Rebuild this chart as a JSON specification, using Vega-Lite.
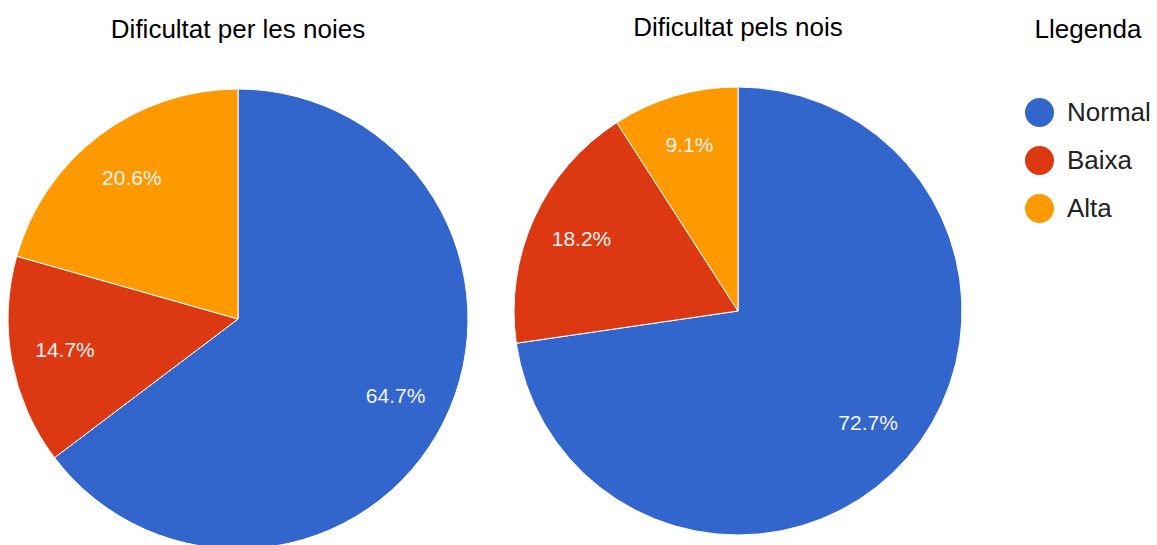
{
  "$schema": "https://vega.github.io/schema/vega-lite/v6.json",
  "padding": {"top": 15, "left": 0, "right": 0, "bottom": 0},
  "background": "white",
  "spacing": 34,
  "data": {
    "values": [
      {"grup": "noies", "categoria": "Normal", "ordre": 1, "pct": 0.647},
      {"grup": "noies", "categoria": "Baixa", "ordre": 2, "pct": 0.147},
      {"grup": "noies", "categoria": "Alta", "ordre": 3, "pct": 0.206},
      {"grup": "nois", "categoria": "Normal", "ordre": 1, "pct": 0.727},
      {"grup": "nois", "categoria": "Baixa", "ordre": 2, "pct": 0.182},
      {"grup": "nois", "categoria": "Alta", "ordre": 3, "pct": 0.091}
    ]
  },
  "config": {
    "view": {"stroke": null},
    "font": "Liberation Sans",
    "title": {"fontSize": 26, "font": "Liberation Sans", "fontWeight": "normal", "color": "#000000", "anchor": "middle", "offset": 44},
    "legend": {
      "orient": "none",
      "legendX": 1025,
      "legendY": -71,
      "title": "Llegenda",
      "titleFontSize": 26,
      "titleFont": "Liberation Sans",
      "titleFontWeight": "normal",
      "titleColor": "#000000",
      "titleAnchor": "middle",
      "titlePadding": 55,
      "labelFontSize": 26,
      "labelFont": "Liberation Sans",
      "labelColor": "#222222",
      "labelOffset": 13,
      "symbolType": "circle",
      "symbolSize": 841,
      "symbolStrokeWidth": 0,
      "rowPadding": 19
    }
  },
  "resolve": {"scale": {"color": "shared"}},
  "hconcat": [
    {
      "width": 476,
      "height": 462,
      "title": "Dificultat per les noies",
      "transform": [{"filter": "datum.grup === 'noies'"}],
      "encoding": {
        "theta": {"field": "pct", "type": "quantitative", "stack": true},
        "order": {"field": "ordre", "type": "quantitative"}
      },
      "layer": [
        {
          "mark": {"type": "arc", "radius": 230, "stroke": "white", "strokeWidth": 1},
          "encoding": {
            "color": {
              "field": "categoria",
              "type": "nominal",
              "title": "Llegenda",
              "scale": {"domain": ["Normal", "Baixa", "Alta"], "range": ["#3366CC", "#DC3912", "#FF9900"]},
              "sort": ["Normal", "Baixa", "Alta"]
            }
          }
        },
        {
          "mark": {"type": "text", "radius": 176, "fontSize": 21, "fill": "#f4f4f4", "font": "Liberation Sans"},
          "encoding": {
            "detail": {"field": "categoria", "type": "nominal"},
            "text": {"field": "pct", "type": "quantitative", "format": ".1%"}
          }
        }
      ]
    },
    {
      "width": 456,
      "height": 446,
      "title": "Dificultat pels nois",
      "transform": [{"filter": "datum.grup === 'nois'"}],
      "encoding": {
        "theta": {"field": "pct", "type": "quantitative", "stack": true},
        "order": {"field": "ordre", "type": "quantitative"}
      },
      "layer": [
        {
          "mark": {"type": "arc", "radius": 224, "stroke": "white", "strokeWidth": 1},
          "encoding": {
            "color": {
              "field": "categoria",
              "type": "nominal",
              "title": "Llegenda",
              "scale": {"domain": ["Normal", "Baixa", "Alta"], "range": ["#3366CC", "#DC3912", "#FF9900"]},
              "sort": ["Normal", "Baixa", "Alta"]
            }
          }
        },
        {
          "mark": {"type": "text", "radius": 172, "fontSize": 21, "fill": "#f4f4f4", "font": "Liberation Sans"},
          "encoding": {
            "detail": {"field": "categoria", "type": "nominal"},
            "text": {"field": "pct", "type": "quantitative", "format": ".1%"}
          }
        }
      ]
    }
  ]
}
